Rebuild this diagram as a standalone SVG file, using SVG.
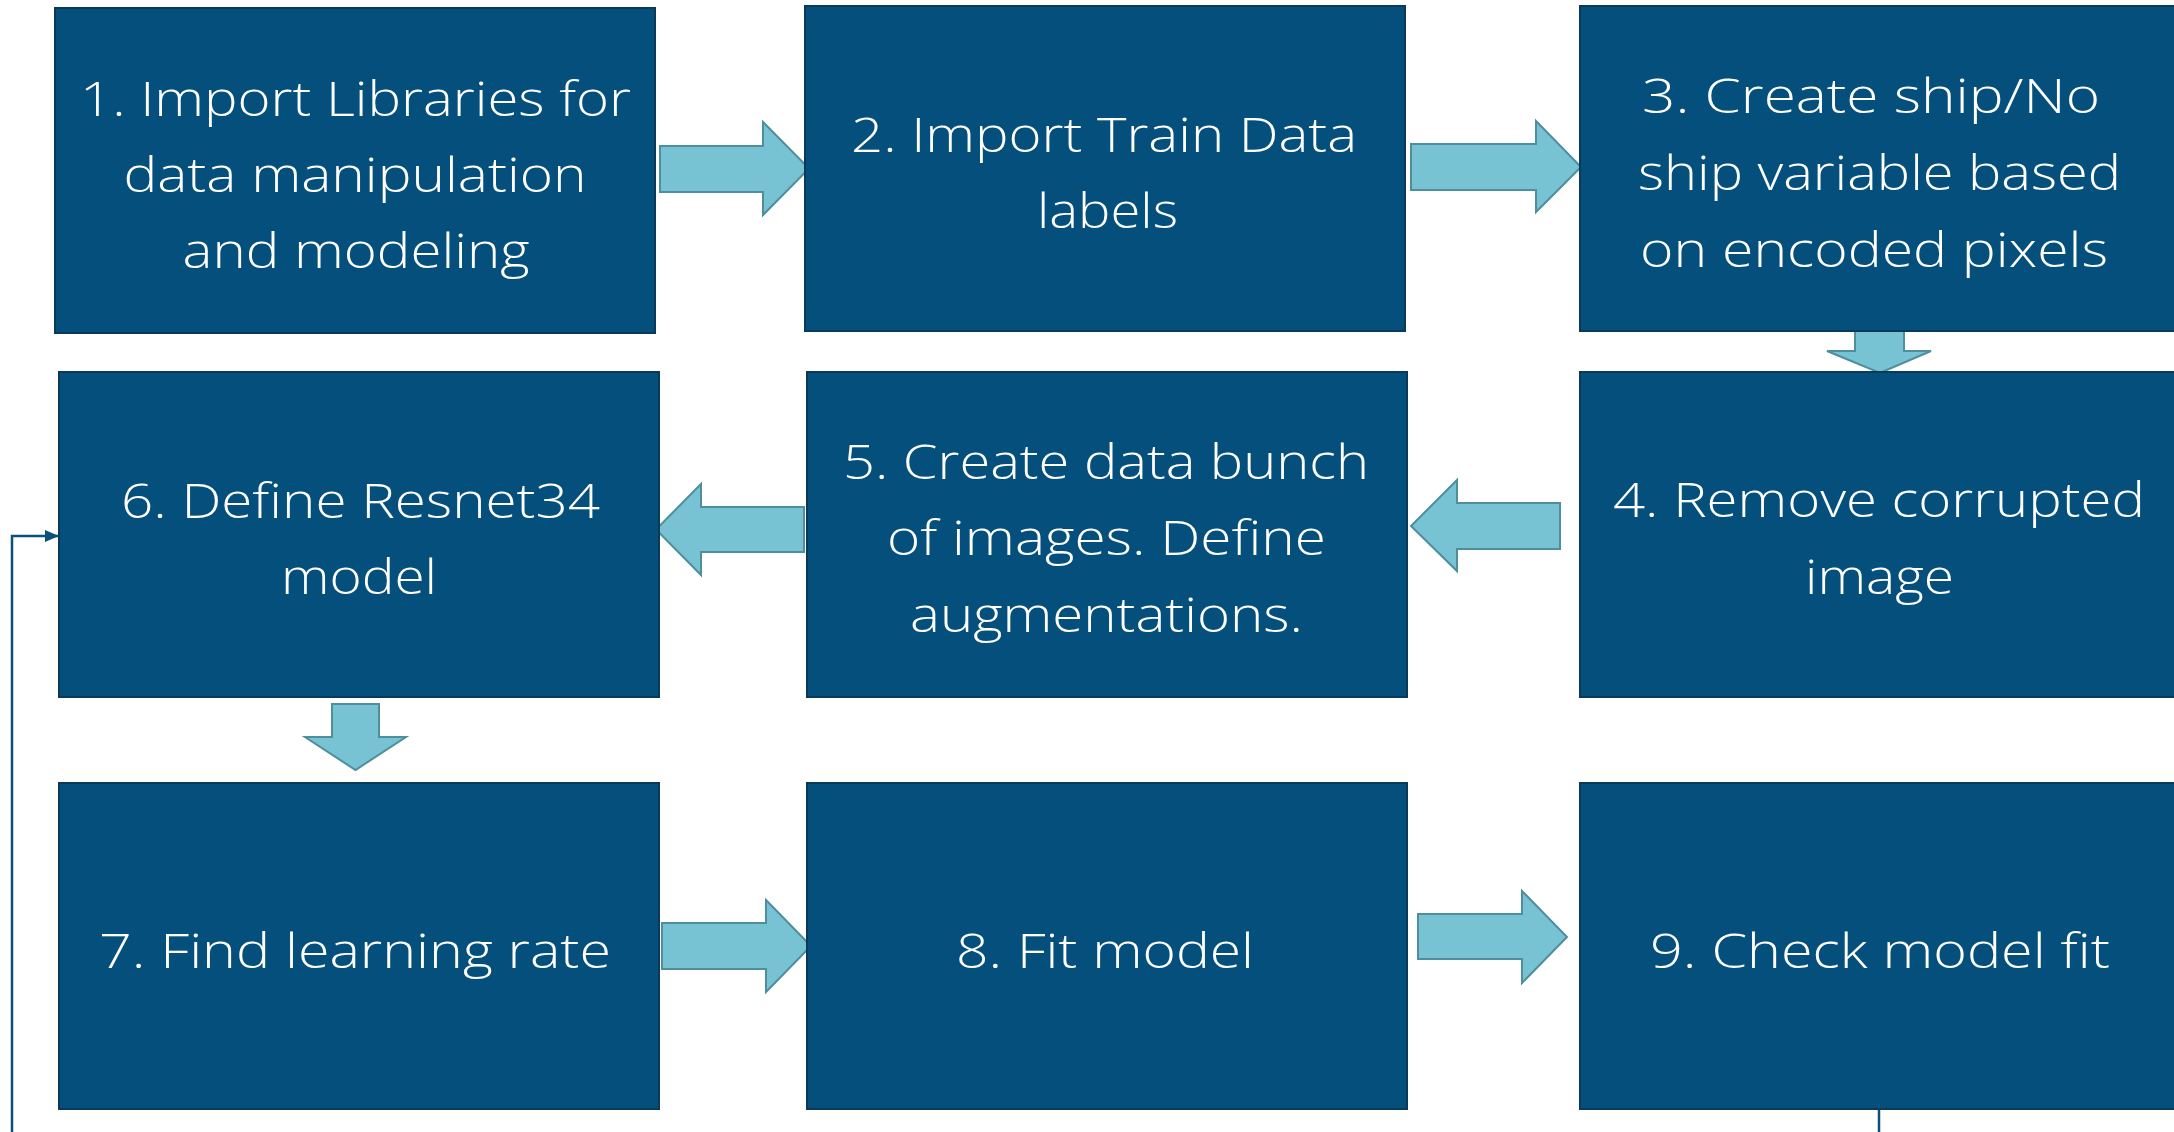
<svg xmlns="http://www.w3.org/2000/svg" width="2174" height="1132" viewBox="0 0 2174 1132">
<style>
.box{fill:#054F7C;stroke:#0A3A5A;stroke-width:2}
.lbl{fill:#FFFFFF;font-family:"Open Sans","Liberation Sans",sans-serif;font-weight:300;font-size:48px;text-anchor:middle}
.arr{fill:#77C3D3;stroke:#4E8E9D;stroke-width:2;stroke-linejoin:miter}
.fb{fill:none;stroke:#0B4F7C;stroke-width:2.5}
</style>
<defs>
<marker id="ah" markerUnits="userSpaceOnUse" markerWidth="14" markerHeight="12" refX="14" refY="6" orient="auto">
<path d="M0,0 L14,6 L0,12 z" fill="#0B4F7C"/>
</marker>
</defs>
<rect width="2174" height="1132" fill="#FFFFFF"/>
<g id="connectors">
<polygon class="arr" points="660,146 763,146 763,122 809,168.5 763,215 763,192 660,192"/>
<polygon class="arr" points="1411,144 1536,144 1536,121 1581,167 1536,212 1536,190 1411,190"/>
<polygon class="arr" points="1855,330 1904,330 1904,351 1931,351 1880,373 1827,351 1855,351"/>
<polygon class="arr" points="1560,503 1457,503 1457,480 1411,526 1457,571 1457,549 1560,549"/>
<polygon class="arr" points="804,507 701,507 701,484 656,529.5 701,575 701,552 804,552"/>
<polygon class="arr" points="332,704 379,704 379,737 406,737 355.5,770 305,737 332,737"/>
<polygon class="arr" points="662,923 766,923 766,900 811,946 766,992 766,969 662,969"/>
<polygon class="arr" points="1418,914 1522,914 1522,891 1567,937 1522,983 1522,959 1418,959"/>
<path class="fb" d="M1879,1109 V1150 H12 V536 H59" marker-end="url(#ah)"/>
</g>
<g id="node1"><rect class="box" x="55" y="8" width="600" height="325"/>
<text class="lbl"><tspan x="355.5" y="116" textLength="551" lengthAdjust="spacingAndGlyphs">1. Import Libraries for</tspan><tspan x="355" y="192" textLength="463" lengthAdjust="spacingAndGlyphs">data manipulation</tspan><tspan x="356" y="268" textLength="347" lengthAdjust="spacingAndGlyphs">and modeling</tspan></text></g>
<g id="node2"><rect class="box" x="805" y="6" width="600" height="325"/>
<text class="lbl"><tspan x="1104" y="152" textLength="506" lengthAdjust="spacingAndGlyphs">2. Import Train Data</tspan><tspan x="1107.5" y="228" textLength="141" lengthAdjust="spacingAndGlyphs">labels</tspan></text></g>
<g id="node3"><rect class="box" x="1580" y="6" width="600" height="325"/>
<text class="lbl"><tspan x="1871" y="113" textLength="458" lengthAdjust="spacingAndGlyphs">3. Create ship/No</tspan><tspan x="1879.5" y="190" textLength="483" lengthAdjust="spacingAndGlyphs">ship variable based</tspan><tspan x="1874" y="267" textLength="468" lengthAdjust="spacingAndGlyphs">on encoded pixels</tspan></text></g>
<g id="node4"><rect class="box" x="1580" y="372" width="600" height="325"/>
<text class="lbl"><tspan x="1879" y="517" textLength="532" lengthAdjust="spacingAndGlyphs">4. Remove corrupted</tspan><tspan x="1879.5" y="594" textLength="149" lengthAdjust="spacingAndGlyphs">image</tspan></text></g>
<g id="node5"><rect class="box" x="807" y="372" width="600" height="325"/>
<text class="lbl"><tspan x="1106" y="479" textLength="526" lengthAdjust="spacingAndGlyphs">5. Create data bunch</tspan><tspan x="1106.5" y="555" textLength="439" lengthAdjust="spacingAndGlyphs">of images. Define</tspan><tspan x="1106.5" y="632" textLength="393" lengthAdjust="spacingAndGlyphs">augmentations.</tspan></text></g>
<g id="node6"><rect class="box" x="59" y="372" width="600" height="325"/>
<text class="lbl"><tspan x="360.5" y="518" textLength="479" lengthAdjust="spacingAndGlyphs">6. Define Resnet34</tspan><tspan x="359" y="594" textLength="156" lengthAdjust="spacingAndGlyphs">model</tspan></text></g>
<g id="node7"><rect class="box" x="59" y="783" width="600" height="326"/>
<text class="lbl"><tspan x="355" y="968" textLength="512" lengthAdjust="spacingAndGlyphs">7. Find learning rate</tspan></text></g>
<g id="node8"><rect class="box" x="807" y="783" width="600" height="326"/>
<text class="lbl"><tspan x="1105" y="968" textLength="298" lengthAdjust="spacingAndGlyphs">8. Fit model</tspan></text></g>
<g id="node9"><rect class="box" x="1580" y="783" width="600" height="326"/>
<text class="lbl"><tspan x="1880" y="968" textLength="460" lengthAdjust="spacingAndGlyphs">9. Check model fit</tspan></text></g>
</svg>
